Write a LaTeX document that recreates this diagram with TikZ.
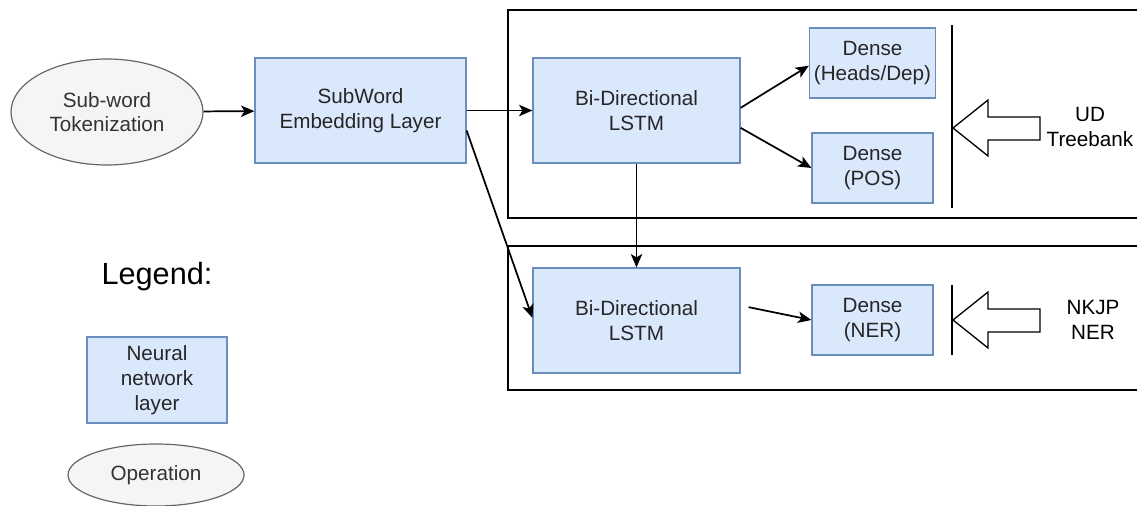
\documentclass[tikz,border=0pt]{standalone}
\usepackage{fontspec}
\setmainfont{Liberation Sans}
\usetikzlibrary{arrows.meta,shapes.geometric}
\definecolor{layerfill}{HTML}{DAE8FC}
\definecolor{layerdraw}{HTML}{6C8EBF}
\definecolor{opfill}{HTML}{F5F5F5}
\definecolor{opdraw}{HTML}{666666}
\definecolor{optext}{HTML}{333333}
\begin{document}
\begin{tikzpicture}[x=0.75pt,y=-0.75pt]
        \tikzset{
            layer/.style={rectangle,draw=layerdraw,fill=layerfill,line width=0.9pt,align=center,
                    text=black!85,font=\fontsize{15.5}{18.5}\selectfont},
            operation/.style={ellipse,draw=opdraw,fill=opfill,line width=0.9pt,align=center,inner sep=0pt,
                    text=optext,font=\fontsize{15.5}{18.5}\selectfont},
            flow/.style={-{Stealth[length=10pt,width=8.5pt,inset=2.5pt]},line width=1.3pt},
            task/.style={line width=1.4pt},
            source/.style={align=center,font=\fontsize{15.5}{18.5}\selectfont}
        }
        \useasboundingbox (0,0) rectangle (1137,506);

        \draw[task] (1150,10) -- (508,10) -- (508,218) -- (1150,218);
        \draw[task] (1150,246) -- (508,246) -- (508,390) -- (1150,390);

        \node[operation,minimum width=144pt,minimum height=79.5pt] (tok) at (107,112) {Sub-word\\Tokenization};
        \node[layer,minimum width=158.25pt,minimum height=78.75pt] (emb) at (360.5,110.5) {SubWord\\Embedding Layer};

        \node[layer,minimum width=155.25pt,minimum height=78.75pt] (lstm1) at (636.5,110.5) {Bi-Directional\\LSTM};
        \node[layer,minimum width=155.25pt,minimum height=78.75pt] (lstm2) at (636.5,320.5) {Bi-Directional\\LSTM};

        \node[layer,minimum width=90.75pt,minimum height=52.5pt] (heads) at (872.5,63) {Dense\\(Heads/Dep)};
        \node[layer,minimum width=90.75pt,minimum height=52.5pt] (pos) at (872.5,168) {Dense\\(POS)};
        \node[layer,minimum width=90.75pt,minimum height=52.5pt] (ner) at (872.5,320) {Dense\\(NER)};

        \draw[flow] (tok) -- (emb);
        \draw[flow] (emb.east) -- (lstm1.west);
        \draw[flow] ([yshift=-15pt]emb.east) -- ([yshift=2pt]lstm2.west);
        \draw[flow] ([yshift=2pt]lstm1.east) -- ([yshift=-2pt]heads.west);
        \draw[flow] ([yshift=-13pt]lstm1.east) -- (pos.west);
        \draw[flow] (lstm1.south) -- (lstm2.north);
        \draw[flow] ([xshift=6pt,yshift=10pt]lstm2.east) -- (ner.west);

        \draw[line width=1.2pt] (952,25) -- (952,208);
        \draw[line width=1.2pt] (952,285) -- (952,355);
        \foreach \y in {128,320}{
                \draw[line width=1pt,fill=white] (953,\y) -- (988,\y-28) -- (988,\y-11) -- (1040,\y-11)
                    -- (1040,\y+12) -- (988,\y+12) -- (988,\y+28) -- cycle;
            }

        \node[source] (ud) at (1090,127) {UD\\Treebank};
        \node[source] (nkjp) at (1093,320) {NKJP\\NER};

        \node[font=\fontsize{23}{27}\selectfont] (legend) at (157,277) {Legend:};
        \node[layer,minimum width=105pt,minimum height=64.5pt] (leglayer) at (157,380) {Neural\\network\\layer};
        \node[operation,minimum width=132pt,minimum height=46.5pt] (legop) at (156,475) {Operation};

    \end{tikzpicture}
\end{document}
